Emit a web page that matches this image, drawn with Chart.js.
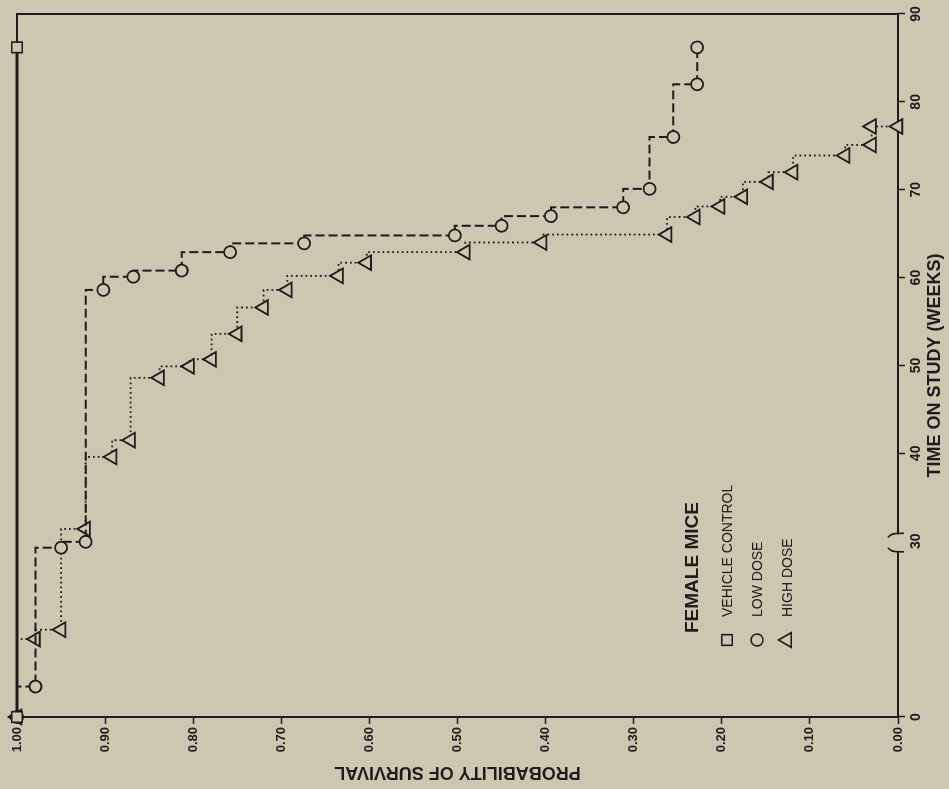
<!DOCTYPE html>
<html>
<head>
<meta charset="utf-8">
<title>Female mice survival</title>
<script src="https://cdn.jsdelivr.net/npm/chart.js@4.4.1/dist/chart.umd.min.js"></script>
<style>
html, body { margin: 0; padding: 0; width: 949px; height: 789px; overflow: hidden; background: #cdc7b2; }
/* the plot was printed sideways, so the whole canvas is turned a quarter left */
#wrap { position: absolute; left: 0; top: 789px; width: 789px; height: 949px; transform-origin: 0 0; transform: rotate(-90deg); }
</style>
</head>
<body>
<div id="wrap"><canvas id="chart" width="789" height="949"></canvas></div>
<script>
// Data: weeks on study / probability of survival
const tickWeeks = [0, 30, 40, 50, 60, 70, 80, 90];
const probTicks = [0, 0.1, 0.2, 0.3, 0.4, 0.5, 0.6, 0.7, 0.8, 0.9, 1.0];

const vehicleWeeks = [0, 86.2];
const vehicleSurv = [1.0, 1.0];

const lowWeeks = [0, 5.2, 28.9, 29.9, 58.6, 60.1, 60.8, 62.9, 63.9, 64.8, 65.9, 67.0, 68.0, 70.1, 76.0, 82.0, 86.2];
const lowSurv = [1.0, 0.979, 0.950, 0.922, 0.902, 0.868, 0.813, 0.758, 0.674, 0.503, 0.450, 0.394, 0.312, 0.282, 0.255, 0.228, 0.228];

const highWeeks = [0, 13.3, 14.9, 31.4, 39.6, 41.5, 48.6, 49.9, 50.7, 53.6, 56.6, 58.6, 60.2, 61.7, 62.9, 64.0, 64.9, 66.9, 68.1, 69.2, 70.9, 72.0, 73.9, 75.1, 77.2, 77.2];
const highSurv = [1.0, 0.979, 0.950, 0.922, 0.892, 0.871, 0.838, 0.804, 0.779, 0.750, 0.720, 0.693, 0.635, 0.603, 0.491, 0.404, 0.262, 0.230, 0.202, 0.176, 0.147, 0.119, 0.060, 0.030, 0.030, 0.0];

const ink = '#1c1c1c';
const paper = '#cdc7b2';

// broken time axis: weeks 0-30 are squeezed, after the break one unit per week
const BREAK = 30;
const SQUEEZE = 2 / 3;
function toAxis(w) { return w <= BREAK ? w * SQUEEZE : BREAK * SQUEEZE + (w - BREAK); }
function fromAxis(u) { return u <= BREAK * SQUEEZE ? u / SQUEEZE : u - BREAK * SQUEEZE + BREAK; }

function points(weeks, surv) {
    return weeks.map((w, i) => ({ x: toAxis(w), y: surv[i] }));
}

const fontFamily = "'Liberation Sans', Arial, Helvetica, sans-serif";
Chart.defaults.font.family = fontFamily;
Chart.defaults.color = ink;

// box round the plot, axis break marks and the legend block
const framePlugin = {
    id: 'frame',
    beforeDatasetsDraw(chart) {
        const { ctx, chartArea: a } = chart;
        ctx.save();
        ctx.strokeStyle = ink;
        ctx.lineWidth = 2;
        ctx.strokeRect(a.left, a.top, a.right - a.left, a.bottom - a.top);
        ctx.restore();
    },
    afterDraw(chart) {
        const { ctx, chartArea: a } = chart;
        const xs = chart.scales.x;
        const x1 = xs.getPixelForValue(18.8);
        const x2 = xs.getPixelForValue(20.9);
        ctx.save();
        // gap in the time axis
        ctx.fillStyle = paper;
        ctx.fillRect(x1 + 1, a.bottom - 3, x2 - x1 - 2, 6);
        ctx.strokeStyle = ink;
        ctx.lineWidth = 1.6;
        ctx.beginPath();
        ctx.moveTo(x1, a.bottom + 6);
        ctx.lineTo(x1, a.bottom);
        ctx.quadraticCurveTo(x1, a.bottom - 7, x1 + 4, a.bottom - 10);
        ctx.moveTo(x2, a.bottom + 6);
        ctx.lineTo(x2, a.bottom);
        ctx.quadraticCurveTo(x2, a.bottom - 7, x2 - 4, a.bottom - 10);
        ctx.stroke();

        // legend
        const lx = a.left + 77;
        const ly = a.top + 676;
        ctx.fillStyle = ink;
        ctx.textAlign = 'left';
        ctx.textBaseline = 'middle';
        ctx.font = 'bold 19px ' + fontFamily;
        ctx.fillText('FEMALE MICE', lx + 7, ly);
        ctx.font = '14px ' + fontFamily;
        chart.data.datasets.forEach((ds, i) => {
            const y = ly + 34 + i * 30;
            ctx.fillStyle = paper;
            ctx.strokeStyle = ink;
            Chart.helpers.drawPoint(ctx, {
                pointStyle: ds.pointStyle,
                radius: ds.pointRadius,
                borderWidth: 1.6,
                rotation: 0
            }, lx, y);
            ctx.fillStyle = ink;
            ctx.fillText(ds.label, lx + 23, y + 1);
        });
        ctx.restore();
    }
};

const ctx = document.getElementById('chart').getContext('2d');
const survivalChart = new Chart(ctx, {
    type: 'line',
    data: {
        datasets: [
            {
                label: 'VEHICLE CONTROL',
                data: points(vehicleWeeks, vehicleSurv),
                borderColor: ink,
                borderWidth: 3,
                stepped: 'before',
                pointStyle: 'rect',
                pointRadius: 7.5,
                pointBorderWidth: 1.6,
                pointBorderColor: ink,
                pointBackgroundColor: paper,
                clip: false
            },
            {
                label: 'LOW DOSE',
                data: points(lowWeeks, lowSurv),
                borderColor: ink,
                borderWidth: 2,
                borderDash: [9, 4],
                stepped: 'before',
                pointStyle: 'circle',
                pointRadius: 6,
                pointBorderWidth: 1.8,
                pointBorderColor: ink,
                pointBackgroundColor: paper,
                clip: false
            },
            {
                label: 'HIGH DOSE',
                data: points(highWeeks, highSurv),
                borderColor: ink,
                borderWidth: 1.8,
                borderDash: [1.8, 3],
                stepped: 'before',
                pointStyle: 'triangle',
                pointRadius: 8.5,
                pointBorderWidth: 1.8,
                pointBorderColor: ink,
                pointBackgroundColor: paper,
                clip: false
            }
        ]
    },
    options: {
        responsive: false,
        animation: false,
        events: [],
        layout: { padding: { top: 17, right: 14, left: 0, bottom: 0 } },
        plugins: {
            legend: { display: false },
            tooltip: { enabled: false }
        },
        scales: {
            x: {
                type: 'linear',
                position: 'bottom',
                min: 0,
                max: toAxis(90),
                afterBuildTicks: function(scale) {
                    scale.ticks = tickWeeks.map(w => ({ value: toAxis(w) }));
                },
                afterFit: function(scale) { scale.height = 51; },
                ticks: {
                    autoSkip: false,
                    maxRotation: 0,
                    padding: 3,
                    font: { size: 14, weight: 'bold' },
                    callback: function(value) { return String(Math.round(fromAxis(value))); }
                },
                grid: {
                    drawOnChartArea: false,
                    tickLength: 7,
                    tickWidth: 1.5,
                    tickColor: c => (c.tick && Math.abs(c.tick.value - toAxis(BREAK)) < 0.01) ? 'rgba(0,0,0,0)' : ink
                },
                border: { display: false },
                title: {
                    display: true,
                    text: 'TIME ON STUDY (WEEKS)',
                    font: { size: 18, weight: 'bold' },
                    padding: { top: 0, bottom: 3 }
                }
            },
            y: {
                min: 0,
                max: 1,
                afterBuildTicks: function(scale) {
                    scale.ticks = probTicks.map(v => ({ value: v }));
                },
                afterFit: function(scale) { scale.width = 72; },
                ticks: {
                    padding: 3,
                    font: { size: 13, weight: 'bold' },
                    callback: function(value) { return value.toFixed(2); }
                },
                grid: {
                    drawOnChartArea: false,
                    tickLength: 7,
                    tickWidth: 1.5,
                    tickColor: ink
                },
                border: { display: false },
                title: {
                    display: true,
                    text: 'PROBABILITY OF SURVIVAL',
                    font: { size: 18, weight: 'bold' },
                    padding: { top: 6, bottom: 0 }
                }
            }
        }
    },
    plugins: [framePlugin]
});
</script>
</body>
</html>
